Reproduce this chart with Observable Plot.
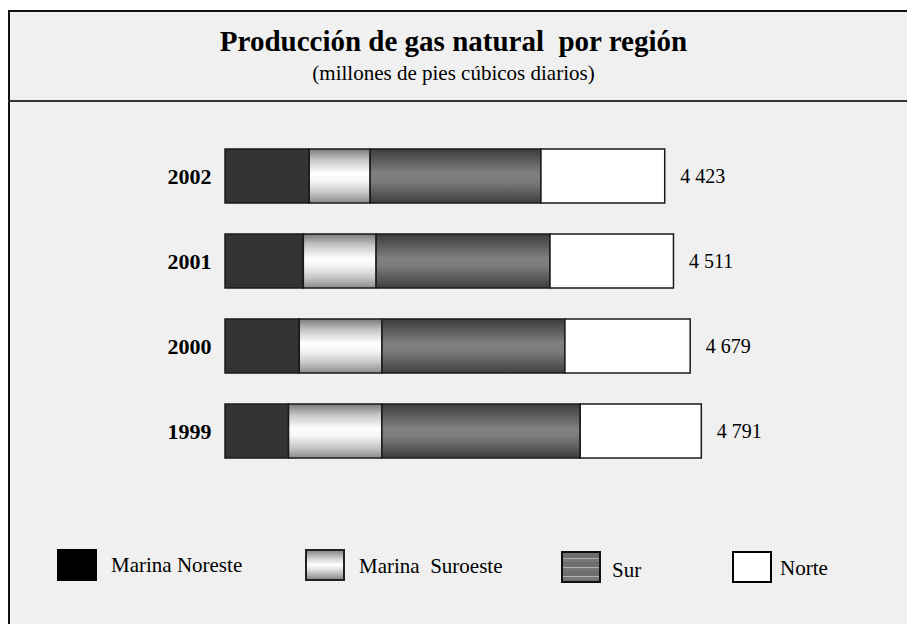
<!DOCTYPE html>
<html><head><meta charset="utf-8">
<script src="https://cdn.jsdelivr.net/npm/d3@7"></script>
<script src="https://cdn.jsdelivr.net/npm/@observablehq/plot@0.6"></script>
<style>
body{margin:0;background:#fff;font-family:"Liberation Serif","Times New Roman",serif;color:#000;}
#page{position:relative;width:907px;height:624px;overflow:hidden;}
#box{position:absolute;left:8px;top:10px;width:940px;height:660px;border-left:2px solid #111;border-top:2px solid #111;background:#f0f0f0;}
#sep{position:absolute;left:8px;top:100px;width:940px;height:0;border-top:2px solid #333;}
#title{position:absolute;left:0;width:907px;top:27px;text-align:center;font-weight:bold;font-size:29px;white-space:pre;line-height:1;}
#subtitle{position:absolute;left:0;width:907px;top:63px;text-align:center;font-size:21px;white-space:pre;line-height:1;}
#chart{position:absolute;left:0;top:101px;}
.sw{position:absolute;box-sizing:border-box;}
.lt{position:absolute;font-size:21px;white-space:pre;line-height:1;}
</style></head>
<body>
<div id="page">
  <div id="box"></div>
  <div id="sep"></div>
  <div id="title">Producción de gas natural  por región</div>
  <div id="subtitle">(millones de pies cúbicos diarios)</div>
  <div id="chart"></div>
  <div id="legend"></div>
</div>
<script>
const years = ["2002", "2001", "2000", "1999"];
const regions = ["Marina Noreste", "Marina Suroeste", "Sur", "Norte"];
const legendLabels = ["Marina Noreste", "Marina  Suroeste", "Sur", "Norte"];
const marinaNoreste = [847, 788, 747, 639];
const marinaSuroeste = [613, 732, 832, 939];
const sur = [1718, 1749, 1840, 1995];
const norte = [1245, 1242, 1260, 1218];
const totalLabels = ["4 423", "4 511", "4 679", "4 791"];

const series = [marinaNoreste, marinaSuroeste, sur, norte];
const rows = [];
regions.forEach((r, j) => years.forEach((y, i) => rows.push({year: y, region: r, value: series[j][i]})));
const totalsRows = years.map((y, i) => ({
  year: y,
  total: series.reduce((s, a) => s + a[i], 0),
  label: totalLabels[i]
}));

const fills = ["#333333", "url(#gMS)", "url(#gSur)", "#ffffff"];

const chart = Plot.plot({
  width: 907,
  height: 420,
  marginLeft: 225,
  marginRight: 0,
  marginTop: 47,
  marginBottom: 62,
  x: {domain: [0, 6860], axis: null},
  y: {domain: years, axis: null, paddingInner: 0.37, paddingOuter: 0},
  color: {domain: regions, range: fills},
  style: {background: "transparent", fontFamily: "'Liberation Serif', 'Times New Roman', serif", overflow: "visible"},
  marks: [
    Plot.barX(rows, {x: "value", y: "year", fill: "region", stroke: "#1a1a1a", strokeWidth: 1.5, order: regions}),
    Plot.text(years, {x: d => 0, y: d => d, text: d => d, dx: -14, textAnchor: "end", fontWeight: "bold", fontSize: 22, fill: "#000"}),
    Plot.text(totalsRows, {x: "total", y: "year", text: "label", dx: 15, textAnchor: "start", fontSize: 20, fill: "#000"})
  ]
});

const defs = d3.select(chart).insert("defs", ":first-child");
const gms = defs.append("linearGradient").attr("id", "gMS").attr("x1", 0).attr("x2", 0).attr("y1", 0).attr("y2", 1);
[[0, "#7a7a7a"], [0.2, "#c4c4c4"], [0.45, "#ffffff"], [0.6, "#f4f4f4"], [0.8, "#c8c8c8"], [1, "#8c8c8c"]]
  .forEach(([o, c]) => gms.append("stop").attr("offset", o).attr("stop-color", c));
const gsur = defs.append("linearGradient").attr("id", "gSur").attr("x1", 0).attr("x2", 0).attr("y1", 0).attr("y2", 1);
[[0, "#3c3c3c"], [0.45, "#808080"], [0.6, "#7c7c7c"], [1, "#3e3e3e"]]
  .forEach(([o, c]) => gsur.append("stop").attr("offset", o).attr("stop-color", c));

document.getElementById("chart").appendChild(chart);

// legend (HTML, built from the region names)
const legendX = [57, 305, 561, 732];
const legendY = [549, 549, 551, 551];
const textDx = [54, 54, 51, 48];
const textDy = [6, 7, 9, 7];
const swatchStyles = [
  "background:#000;",
  "border:2px solid #222;background:linear-gradient(#8a8a8a,#d8d8d8 30%,#fff 50%,#d8d8d8 70%,#8a8a8a);",
  "border:2px solid #111;background:repeating-linear-gradient(#6e6e6e 0 5px,#b0b0b0 5px 6px,#777 6px 9px);",
  "border:2px solid #000;background:#fff;"
];
const leg = document.getElementById("legend");
legendLabels.forEach((lab, i) => {
  const s = document.createElement("div");
  s.className = "sw";
  s.style.cssText = `left:${legendX[i]}px;top:${legendY[i]}px;width:40px;height:32px;` + swatchStyles[i];
  leg.appendChild(s);
  const t = document.createElement("div");
  t.className = "lt";
  t.textContent = lab;
  t.style.left = (legendX[i] + textDx[i]) + "px";
  t.style.top = (legendY[i] + textDy[i]) + "px";
  leg.appendChild(t);
});
</script>
</body></html>
